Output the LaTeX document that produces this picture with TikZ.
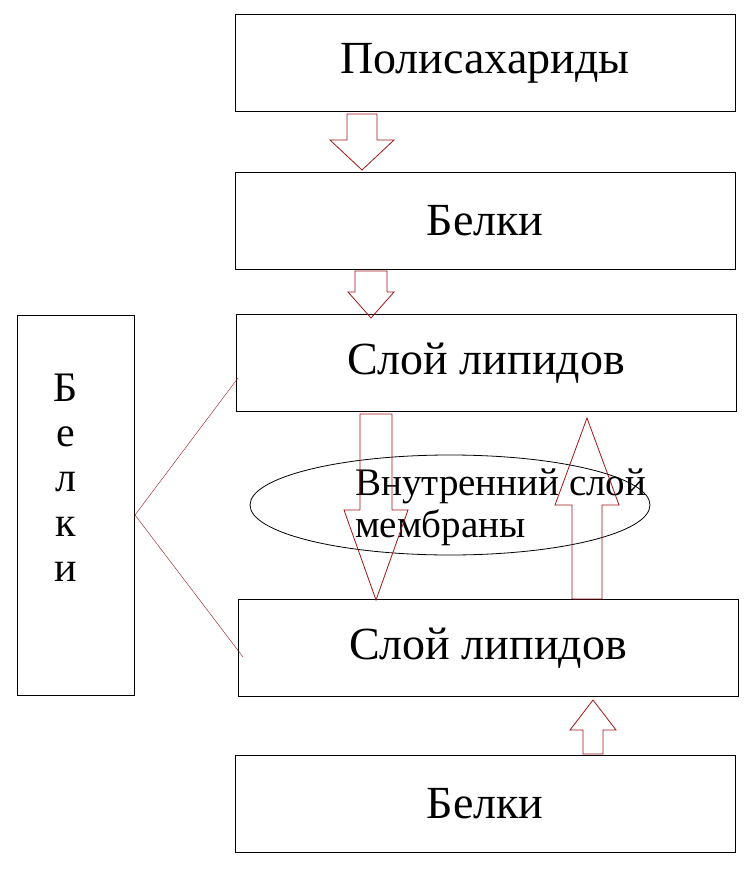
\documentclass[tikz,border=0pt]{standalone}
\usepackage{fontspec}
\setmainfont{Liberation Serif}
\usetikzlibrary{positioning,shapes.geometric}
\definecolor{arrowred}{RGB}{160,20,20}
\tikzset{
	layer/.style={
		rectangle,
		draw=black, thick,
		minimum width=500pt,
		minimum height=97pt,
		font=\fontsize{46}{50}\selectfont,
		text centered,
	},
	flow/.style={draw=arrowred, thick},
}
% block arrow: x, y start, y tip, half shaft, half head, y where head begins
\newcommand{\blockarrow}[6]{%
	\draw[flow] (#1-#4,#2) -- (#1+#4,#2) -- (#1+#4,#6) -- (#1+#5,#6)
		-- (#1,#3) -- (#1-#5,#6) -- (#1-#4,#6) -- cycle;}

\begin{document}
\begin{tikzpicture}[x=1pt,y=-1pt]
\useasboundingbox (0,0) rectangle (750,874);
\node	(poly)	[layer]	at (485,63)	{Полисахариды};
\node	(protA)	[layer]	at (485,221)	{Белки};
\node	(lipA)	[layer]	at (486,363)	{Слой липидов};
\node	(lipB)	[layer]	at (488,648)	{Слой липидов};
\node	(protB)	[layer]	at (485,804)	{Белки};
\node	(side)	[draw=black, thick, minimum width=117pt, minimum height=380pt,
		align=center, font=\fontsize{42}{45}\selectfont] at (76,505) {};
\node	(sidetxt)	[align=center, font=\fontsize{42}{45}\selectfont] at (66,478)
		{Б\\е\\л\\к\\и};
\node	(inner)	[draw=black, thick, ellipse, minimum width=400pt, minimum height=100pt] at (450,505) {};
\node	(innertxt)	[align=left, font=\fontsize{39}{42}\selectfont, inner sep=0pt, anchor=west] at (355,507)
		{Внутренний слой\\мембраны};

\coordinate (fork) at (135,515);
\draw[flow, thin] (fork) -- (238,378);
\draw[flow, thin] (fork) -- (243,657);

\blockarrow{362}{114}{170}{15}{32}{140}
\blockarrow{371}{271}{318}{16}{23}{292}
\blockarrow{376}{414}{600}{16}{32}{510}
\blockarrow{587}{599}{418}{15}{32}{505}
\blockarrow{593}{754}{700}{10}{23}{730}
\end{tikzpicture}
\end{document}
